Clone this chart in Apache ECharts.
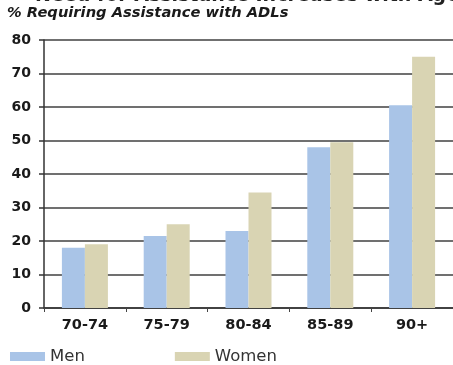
<!DOCTYPE html>
<html>
<head>
<meta charset="utf-8">
<script src="https://cdn.jsdelivr.net/npm/echarts@6/dist/echarts.min.js"></script>
<style>
  html, body { margin: 0; padding: 0; background: #fff; }
  #chart { width: 453px; height: 365px; }
</style>
</head>
<body>
<div id="chart"></div>
<script>
// Age groups and share (%) requiring assistance with activities of daily living
const ageGroups = ['70-74', '75-79', '80-84', '85-89', '90+'];
const menValues = [18, 21.5, 23, 48, 60.5];
const womenValues = [19, 25, 34.5, 49.5, 75];
const seriesNames = ['Men', 'Women'];
const headline = 'Need for Assistance Increases with Age';
const subtitle = '% Requiring Assistance with ADLs';

const chart = echarts.init(document.getElementById('chart'), null, { renderer: 'canvas' });

chart.setOption({
  animation: false,
  backgroundColor: '#ffffff',
  color: ['#a9c4e7', '#d9d4b3'],
  graphic: [
    {
      type: 'text',
      x: 35,
      y: -13,
      style: {
        text: headline,
        font: 'bold 19px "DejaVu Sans"',
        fill: '#222',
        verticalAlign: 'top'
      }
    },
    {
      type: 'text',
      x: 7,
      y: 21,
      style: {
        text: subtitle,
        font: 'italic bold 14.7px "DejaVu Sans"',
        fill: '#1a1a1a',
        verticalAlign: 'bottom'
      }
    }
  ],
  legend: {
    left: 5,
    top: 343,
    itemWidth: 35,
    itemHeight: 9,
    itemGap: 90,
    icon: 'rect',
    textStyle: {
      fontFamily: 'DejaVu Sans',
      fontSize: 16.5,
      color: '#333'
    },
    data: seriesNames
  },
  grid: {
    left: 44,
    right: 0,
    top: 40,
    bottom: 57,
    containLabel: false
  },
  xAxis: {
    type: 'category',
    data: ageGroups,
    axisLine: { show: true, lineStyle: { color: '#333', width: 1.5 } },
    axisTick: { show: true, alignWithLabel: false, length: 4, lineStyle: { color: '#444' } },
    axisLabel: {
      margin: 10,
      fontFamily: 'DejaVu Sans',
      fontWeight: 'bold',
      fontSize: 14.5,
      color: '#1a1a1a'
    },
    splitLine: { show: false }
  },
  yAxis: {
    type: 'value',
    min: 0,
    max: 80,
    interval: 10,
    axisLine: { show: true, lineStyle: { color: '#333', width: 1.5 } },
    axisTick: { show: true, length: 5, lineStyle: { color: '#333', width: 1.5 } },
    axisLabel: {
      margin: 13,
      fontFamily: 'DejaVu Sans',
      fontWeight: 'bold',
      fontSize: 14,
      color: '#1a1a1a'
    },
    splitLine: { show: true, lineStyle: { color: '#707070', width: 2 } }
  },
  series: [
    {
      name: seriesNames[0],
      type: 'bar',
      data: menValues,
      barWidth: 23,
      barGap: '0%'
    },
    {
      name: seriesNames[1],
      type: 'bar',
      data: womenValues,
      barWidth: 23,
      barGap: '0%'
    }
  ]
});
</script>
</body>
</html>
